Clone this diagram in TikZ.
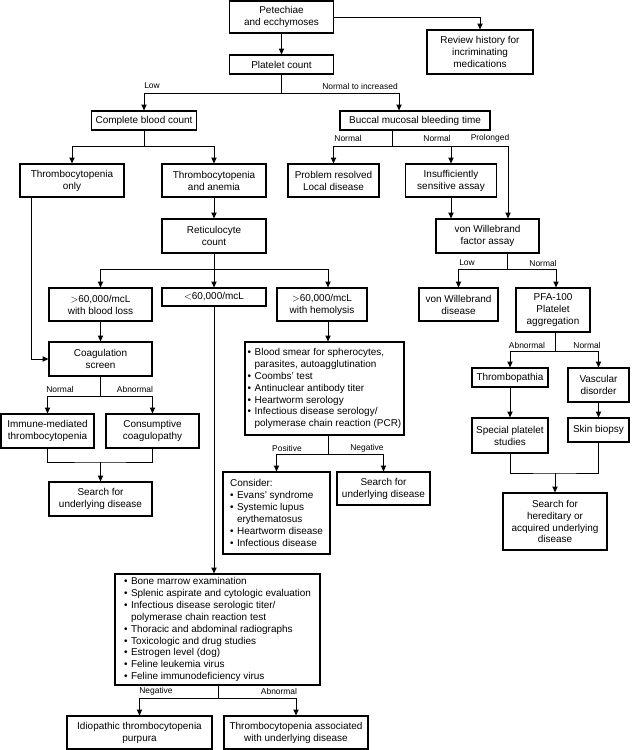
\documentclass[tikz,border=0pt]{standalone}
\usepackage{fontspec}
\setmainfont{Liberation Sans}
\usetikzlibrary{arrows.meta}
\newcommand{\bul}{\textbullet\hspace{0.35em}}
\newcommand{\ind}{\hphantom{\textbullet\hspace{0.35em}}}
\tikzset{
  box/.style={draw, line width=1pt, inner sep=0pt, align=center, font=\fontsize{8.5}{10.2}\selectfont},
  sz/.style 2 args={minimum width=#1*0.03cm, minimum height=#2*0.03cm},
  arr/.style={-{Triangle[length=5pt,width=4.5pt]}},
  lbl/.style={inner sep=0pt, font=\fontsize{7.2}{8}\selectfont},
}
\begin{document}
\begin{tikzpicture}[line width=0.8pt, x=0.03cm, y=-0.03cm]
  \useasboundingbox (0,0) rectangle (631,750);
  \node[box, sz={104}{32}] (pet) at (281.5,17) {Petechiae\\and ecchymoses};
  \node[box, sz={106}{44}] (rev) at (480,52) {Review history for\\incriminating\\medications};
  \node[box, sz={104}{19}] (plt) at (281.5,64.5) {Platelet count};
  \node[box, sz={105}{19}] (cbc) at (144,120.5) {Complete blood count};
  \node[box, sz={150}{19}] (bmbt) at (415,120.5) {Buccal mucosal bleeding time};
  \node[box, sz={104}{33}] (tonly) at (72,180.5) {Thrombocytopenia\\only};
  \node[box, sz={104}{33}] (tanem) at (214,180.5) {Thrombocytopenia\\and anemia};
  \node[box, sz={91}{33}] (prob) at (333.5,180.5) {Problem resolved\\Local disease};
  \node[box, sz={91}{33}] (ins) at (451,180.5) {Insufficiently\\sensitive assay};
  \node[box, sz={104}{34}] (ret) at (214,236) {Reticulocyte\\count};
  \node[box, sz={103}{34}] (vwf) at (487.5,236) {von Willebrand\\factor assay};
  \node[box, sz={103}{33}] (bloss) at (100.5,304.5) {$>$60,000/mcL\\with blood loss};
  \node[box, sz={104}{18}] (lt) at (214,297) {$<$60,000/mcL};
  \node[box, sz={90}{33}] (hemo) at (322,304.5) {$>$60,000/mcL\\with hemolysis};
  \node[box, sz={79}{33}] (vwd) at (458.5,304.5) {von Willebrand\\disease};
  \node[box, sz={74}{44}] (pfa) at (553,310) {PFA-100\\Platelet\\aggregation};
  \node[box, sz={103}{34}] (coag) at (100.5,359) {Coagulation\\screen};
  \node[box, sz={159}{93}, align=left] (smear) at (324.5,388.5) {\bul Blood smear for spherocytes,\\\ind parasites, autoagglutination\\\bul Coombs' test\\\bul Antinuclear antibody titer\\\bul Heartworm serology\\\bul Infectious disease serology/\\\ind polymerase chain reaction (PCR)};
  \node[box, sz={76}{19}] (tpath) at (510,377.5) {Thrombopathia};
  \node[box, sz={61}{34}] (vasc) at (598.5,385) {Vascular\\disorder};
  \node[box, sz={93}{34}] (imm) at (47.5,431) {Immune-mediated\\thrombocytopenia};
  \node[box, sz={93}{34}] (cons) at (152.5,431) {Consumptive\\coagulopathy};
  \node[box, sz={76}{35}] (spec) at (510,435.5) {Special platelet\\studies};
  \node[box, sz={61}{24}] (skin) at (598.5,430) {Skin biopsy};
  \node[box, sz={107}{82}, align=left] (consid) at (276.5,513) {Consider:\\\bul Evans' syndrome\\\bul Systemic lupus\\\ind erythematosus\\\bul Heartworm disease\\\bul Infectious disease};
  \node[box, sz={93}{33}] (srchm) at (383.5,488.5) {Search for\\underlying disease};
  \node[box, sz={103}{34}] (srchl) at (100.5,499) {Search for\\underlying disease};
  \node[box, sz={104}{57}] (hered) at (555,521.5) {Search for\\hereditary or\\acquired underlying\\disease};
  \node[box, sz={205}{111}, align=left] (bone) at (217.5,629.5) {\bul Bone marrow examination\\\bul Splenic aspirate and cytologic evaluation\\\bul Infectious disease serologic titer/\\\ind polymerase chain reaction test\\\bul Thoracic and abdominal radiographs\\\bul Toxicologic and drug studies\\\bul Estrogen level (dog)\\\bul Feline leukemia virus\\\bul Feline immunodeficiency virus};
  \node[box, sz={145}{33}] (idio) at (139.5,732.5) {Idiopathic thrombocytopenia\\purpura};
  \node[box, sz={144}{33}] (assoc) at (296,732.5) {Thrombocytopenia associated\\with underlying disease};
  % branch labels
  \foreach \n/\xc/\yc/\t in {lA/152/86/Low, lB/360/86/Normal to increased, lC/348/138/Normal, lD/437/138/Normal, lE/490/138/Prolonged,
      lF/467/263/Low, lG/543/263/Normal, lH/60/389/Normal, lI/135/389/Abnormal, lJ/527/345/Abnormal, lK/587/345/Normal,
      lL/287/448/Positive, lM/367/448/Negative, lN/156/691/Negative, lO/279/691/Abnormal}{
    \node[lbl] (\n) at (\xc,\yc) {\t};
  }
  \foreach \a/\b in {pet/plt, tanem/ret, bloss/coag, tpath/spec, vasc/skin}{
    \draw[arr] (\a.south) -- (\b.north);
  }
  \draw[arr] (pet.east) -| (rev.north);
  \coordinate (jplt) at (281.5,93);
  \coordinate (bin) at (399,93);
  \draw (plt.south) -- (jplt);
  \draw[arr] (jplt) -| (cbc.north);
  \draw[arr] (jplt) -- (bin) -- (bin |- bmbt.north);
  \coordinate (jcbc) at (144,146);
  \draw (cbc.south) -- (jcbc);
  \draw[arr] (jcbc) -| (tonly.north);
  \draw[arr] (jcbc) -| (tanem.north);
  \coordinate (jbm) at (392,146);
  \coordinate (prl) at (508,146);
  \draw (bmbt.south -| jbm) -- (jbm);
  \draw[arr] (jbm) -| (prob.north);
  \draw[arr] (jbm) -| (ins.north);
  \draw[arr] (jbm) -- (prl) -- (prl |- vwf.north);
  \draw[arr] (ins.south) -- (ins.south |- vwf.north);
  \coordinate (jret) at (214,269);
  \coordinate (hin) at (328,269);
  \draw (ret.south) -- (jret);
  \draw[arr] (jret) -| (bloss.north);
  \draw[arr] (jret) -- (lt.north);
  \draw[arr] (jret) -- (hin) -- (hin |- hemo.north);
  \coordinate (tc) at (31,359);
  \draw[arr] (tonly.south -| tc) -- (tc) -- (coag.west);
  \coordinate (jcoag) at (100.5,396);
  \draw (coag.south) -- (jcoag);
  \draw[arr] (jcoag) -| (imm.north);
  \draw[arr] (jcoag) -| (cons.north);
  \coordinate (mimm) at (100.5,462);
  \draw (imm.south) |- (mimm) -| (cons.south);
  \draw[arr] (mimm) -- (srchl.north);
  \draw[arr] (lt.south) -- (lt.south |- bone.north);
  \draw[arr] (hemo.south -| hin) -- (hin |- smear.north);
  \coordinate (jsm) at (328,454);
  \draw (smear.south -| jsm) -- (jsm);
  \draw[arr] (jsm) -| (consid.north);
  \draw[arr] (jsm) -| (srchm.north);
  \coordinate (jvwf) at (507,269);
  \coordinate (pin) at (556,269);
  \draw (vwf.south -| jvwf) -- (jvwf);
  \draw[arr] (jvwf) -| (vwd.north);
  \draw[arr] (jvwf) -- (pin) -- (pin |- pfa.north);
  \coordinate (jpfa) at (555,351);
  \draw (pfa.south -| jpfa) -- (jpfa);
  \draw[arr] (jpfa) -| (tpath.north);
  \draw[arr] (jpfa) -| (vasc.north);
  \coordinate (mspec) at (555,473);
  \draw (spec.south) |- (mspec) -| (skin.south);
  \draw[arr] (mspec) -- (hered.north);
  \coordinate (jbone) at (218,698);
  \draw (bone.south -| jbone) -- (jbone);
  \draw[arr] (jbone) -| (idio.north);
  \draw[arr] (jbone) -| (assoc.north);
\end{tikzpicture}
\end{document}
